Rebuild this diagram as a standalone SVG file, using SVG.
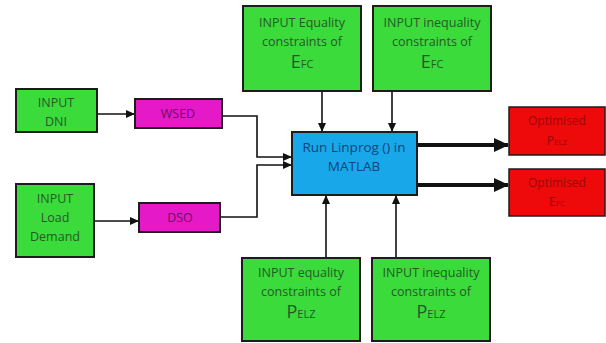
<svg xmlns="http://www.w3.org/2000/svg" width="606" height="343" viewBox="0 0 606 343">
<defs>
<style>
.g{fill:#3bdb3b;stroke:#1c1c1c;stroke-width:2}
.m{fill:#e619c8;stroke:#1c1c1c;stroke-width:2}
.b{fill:#18a8ea;stroke:#1c1c1c;stroke-width:2}
.r{fill:#ee0a0a;stroke:#1c1c1c;stroke-width:1.5}
text{font-family:"Open Sans","Liberation Sans",sans-serif;text-anchor:middle}
.tg{fill:#255a28;font-size:12.5px}
.tgb{fill:#255a28;font-size:18px}
.tm{fill:#6a1060;font-size:12.5px}
.tb{fill:#16427a;font-size:13.5px}
.tr{fill:#980808;font-size:12px}
.c{fill:none;stroke:#111;stroke-width:1.6}
.ct{fill:none;stroke:#111;stroke-width:4}
</style>
<marker id="a" markerWidth="10" markerHeight="10" refX="8" refY="5" orient="auto" markerUnits="userSpaceOnUse"><path d="M0,1 L9,5 L0,9 z" fill="#111"/></marker>
<marker id="at" markerWidth="16" markerHeight="16" refX="14" refY="8" orient="auto" markerUnits="userSpaceOnUse"><path d="M0,1 L15,8 L0,15 z" fill="#111"/></marker>
</defs>
<g id="connectors">
<path class="c" d="M97,114 H134" marker-end="url(#a)"/>
<path class="c" d="M94,221 H138" marker-end="url(#a)"/>
<path class="c" d="M222,116 H257 V157 H291" marker-end="url(#a)"/>
<path class="c" d="M220,217 H257 V165 H291" marker-end="url(#a)"/>
<path class="c" d="M322,91 V131" marker-end="url(#a)"/>
<path class="c" d="M392,91 V131" marker-end="url(#a)"/>
<path class="c" d="M326,258 V196" marker-end="url(#a)"/>
<path class="c" d="M396,258 V196" marker-end="url(#a)"/>
<path class="ct" d="M417,145 H508" marker-end="url(#at)"/>
<path class="ct" d="M417,185 H508" marker-end="url(#at)"/>
</g>
<g id="eq-efc">
<rect class="g" x="243" y="6" width="118" height="85"/>
<text class="tg" x="302" y="27">INPUT Equality</text>
<text class="tg" x="302" y="46">constraints of</text>
<text class="tgb" x="302" y="68">E<tspan font-size="11">FC</tspan></text>
</g>
<g id="ineq-efc">
<rect class="g" x="373" y="6" width="118" height="85"/>
<text class="tg" x="432" y="27">INPUT inequality</text>
<text class="tg" x="432" y="46">constraints of</text>
<text class="tgb" x="432" y="68">E<tspan font-size="11">FC</tspan></text>
</g>
<g id="dni">
<rect class="g" x="16" y="89" width="81" height="43"/>
<text class="tg" x="56" y="107">INPUT</text>
<text class="tg" x="56" y="126">DNI</text>
</g>
<g id="wsed">
<rect class="m" x="135" y="99" width="87" height="29"/>
<text class="tm" x="178" y="118">WSED</text>
</g>
<g id="load">
<rect class="g" x="16" y="184" width="78" height="73"/>
<text class="tg" x="55" y="203">INPUT</text>
<text class="tg" x="55" y="222">Load</text>
<text class="tg" x="55" y="241">Demand</text>
</g>
<g id="dso">
<rect class="m" x="139" y="203" width="81" height="29"/>
<text class="tm" x="180" y="222">DSO</text>
</g>
<g id="matlab">
<rect class="b" x="292" y="132" width="125" height="63"/>
<text class="tb" x="354" y="152">Run Linprog () in</text>
<text class="tb" x="354" y="171">MATLAB</text>
</g>
<g id="opt-pelz">
<rect class="r" x="509" y="107" width="96" height="48"/>
<text class="tr" x="557" y="125">Optimised</text>
<text class="tr" x="557" y="145">P<tspan font-size="8">ELZ</tspan></text>
</g>
<g id="opt-efc">
<rect class="r" x="509" y="169" width="96" height="47"/>
<text class="tr" x="557" y="187">Optimised</text>
<text class="tr" x="557" y="206">E<tspan font-size="8">FC</tspan></text>
</g>
<g id="eq-pelz">
<rect class="g" x="242" y="258" width="118" height="83"/>
<text class="tg" x="301" y="277">INPUT equality</text>
<text class="tg" x="301" y="296">constraints of</text>
<text class="tgb" x="301" y="318">P<tspan font-size="11">ELZ</tspan></text>
</g>
<g id="ineq-pelz">
<rect class="g" x="372" y="258" width="118" height="83"/>
<text class="tg" x="431" y="277">INPUT inequality</text>
<text class="tg" x="431" y="296">constraints of</text>
<text class="tgb" x="431" y="318">P<tspan font-size="11">ELZ</tspan></text>
</g>
</svg>
